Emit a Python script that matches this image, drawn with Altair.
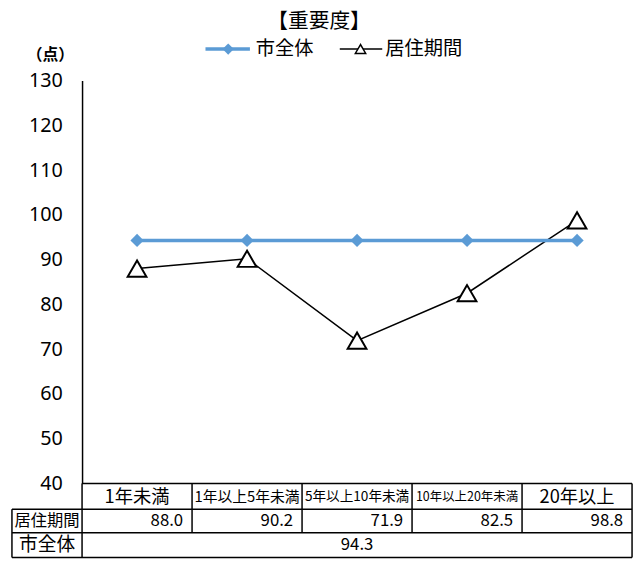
import altair as alt
import pandas as pd

# ---- data ----
categories = ["1年未満", "1年以上5年未満", "5年以上10年未満", "10年以上20年未満", "20年以上"]
residence_values = [88.0, 90.2, 71.9, 82.5, 98.8]
city_value = 94.3
y_ticks = [40, 50, 60, 70, 80, 90, 100, 110, 120, 130]
series_names = ["市全体", "居住期間"]
title_text = "【重要度】"
unit_text = "（点）"

# ---- layout ----
W, H = 557, 408
BAND = W / len(categories)
FONT = "Noto Sans CJK JP"
BLUE = "#5B9BD5"
LEFT_COL = -71
ROW1, ROW2, ROW3, ROW4 = H, H + 26, H + 50, H + 75

df = pd.DataFrame({
    "cat": categories,
    "res": residence_values,
    "city": [city_value] * len(categories),
})

xenc = alt.X("cat:N", sort=categories, scale=alt.Scale(type="point", padding=0.5), axis=None)
yscale = alt.Scale(domain=[40, 130])

base = alt.Chart(df)

res_line = base.mark_line(color="black", strokeWidth=1.5).encode(
    x=xenc,
    y=alt.Y("res:Q", scale=yscale, axis=alt.Axis(
        values=y_ticks, grid=False, ticks=False, domainColor="black", domainWidth=1.5,
        labelPadding=20, labelFontSize=20, labelFont="Noto Sans", labelColor="black", title=None)),
)
city_line = base.mark_line(color=BLUE, strokeWidth=3.5).encode(x=xenc, y=alt.Y("city:Q", scale=yscale))
city_pts = base.mark_point(shape="diamond", filled=True, color=BLUE, size=180, opacity=1).encode(
    x=xenc, y=alt.Y("city:Q", scale=yscale))
res_pts = base.mark_point(shape="triangle-up", filled=True, fill="white", stroke="black",
                          strokeWidth=2, size=361, opacity=1).encode(
    x=xenc, y=alt.Y("res:Q", scale=yscale))

# ---- table borders ----
lines = [
    (0, W, ROW1, ROW1),
    (LEFT_COL, W, ROW2, ROW2),
    (LEFT_COL, W, ROW3, ROW3),
    (LEFT_COL, W, ROW4, ROW4),
    (LEFT_COL, LEFT_COL, ROW2, ROW4),
    (0, 0, ROW1, ROW4),
    (W, W, ROW1, ROW4),
] + [(BAND * k, BAND * k, ROW1, ROW3) for k in range(1, len(categories))]
ldf = pd.DataFrame(lines, columns=["x", "x2", "y", "y2"])
table_lines = alt.Chart(ldf).mark_rule(color="black", strokeWidth=1.5).encode(
    x=alt.X("x:Q", scale=None), x2="x2:Q", y=alt.Y("y:Q", scale=None), y2="y2:Q")

header = base.transform_calculate(
    fs="length(datum.cat) >= 10 ? 12.6 : length(datum.cat) == 9 ? 13.8 : length(datum.cat) == 8 ? 15 : 18.5"
).mark_text(font=FONT, color="black", baseline="middle").encode(
    x=xenc, y=alt.value((ROW1 + ROW2) / 2 + 1), text="cat:N",
    size=alt.Size("fs:Q", scale=None))

res_vals = base.mark_text(font=FONT, fontSize=17, color="black", align="right",
                          baseline="middle", dx=BAND / 2 - 9).encode(
    x=xenc, y=alt.value((ROW2 + ROW3) / 2), text=alt.Text("res:Q", format=".1f"))

one = alt.Chart(pd.DataFrame({"v": [city_value]}))
city_val = one.mark_text(font=FONT, fontSize=17, color="black", baseline="middle").encode(
    x=alt.value(W / 2), y=alt.value((ROW3 + ROW4) / 2), text=alt.Text("v:Q", format=".1f"))

row_lab1 = one.mark_text(font=FONT, fontSize=16.5, color="black", baseline="middle",
                         text=series_names[1]).encode(
    x=alt.value(LEFT_COL / 2), y=alt.value((ROW2 + ROW3) / 2))
row_lab2 = one.mark_text(font=FONT, fontSize=19, color="black", baseline="middle",
                         text=series_names[0]).encode(
    x=alt.value(LEFT_COL / 2), y=alt.value((ROW3 + ROW4) / 2))

# ---- title, unit, legend ----
title = one.mark_text(font=FONT, fontSize=21, color="black", baseline="middle",
                      text=title_text).encode(x=alt.value(240), y=alt.value(-59))
unit = one.mark_text(font=FONT, fontSize=16, fontWeight="bold", color="black", baseline="middle",
                     text=unit_text).encode(x=alt.value(-32), y=alt.value(-26))
LEG_Y = -32
leg_blue = one.mark_rule(color=BLUE, strokeWidth=3.5).encode(
    x=alt.value(125), x2=alt.value(170), y=alt.value(LEG_Y))
leg_blue_pt = one.mark_point(shape="diamond", filled=True, color=BLUE, size=130, opacity=1).encode(
    x=alt.value(148), y=alt.value(LEG_Y))
leg_blue_txt = one.mark_text(font=FONT, fontSize=19.5, color="black", align="left",
                             baseline="middle", text=series_names[0]).encode(
    x=alt.value(176), y=alt.value(LEG_Y))
leg_black = one.mark_rule(color="black", strokeWidth=1.5).encode(
    x=alt.value(261), x2=alt.value(304), y=alt.value(LEG_Y))
leg_black_pt = one.mark_point(shape="triangle-up", filled=True, fill="white", stroke="black",
                              strokeWidth=1.5, size=110, opacity=1).encode(
    x=alt.value(282), y=alt.value(LEG_Y))
leg_black_txt = one.mark_text(font=FONT, fontSize=19.5, color="black", align="left",
                              baseline="middle", text=series_names[1]).encode(
    x=alt.value(307), y=alt.value(LEG_Y))

chart = alt.layer(
    table_lines, res_line, city_line, city_pts, res_pts,
    header, res_vals, city_val, row_lab1, row_lab2,
    title, unit, leg_blue, leg_blue_pt, leg_blue_txt, leg_black, leg_black_pt, leg_black_txt,
).properties(
    width=W, height=H,
    autosize=alt.AutoSizeParams(type="none"),
    padding={"left": 75, "top": 70, "right": 4, "bottom": 76},
    background="white",
).configure_view(stroke=None)

chart.save("out.html", embed_options={"renderer": "svg", "actions": False})
